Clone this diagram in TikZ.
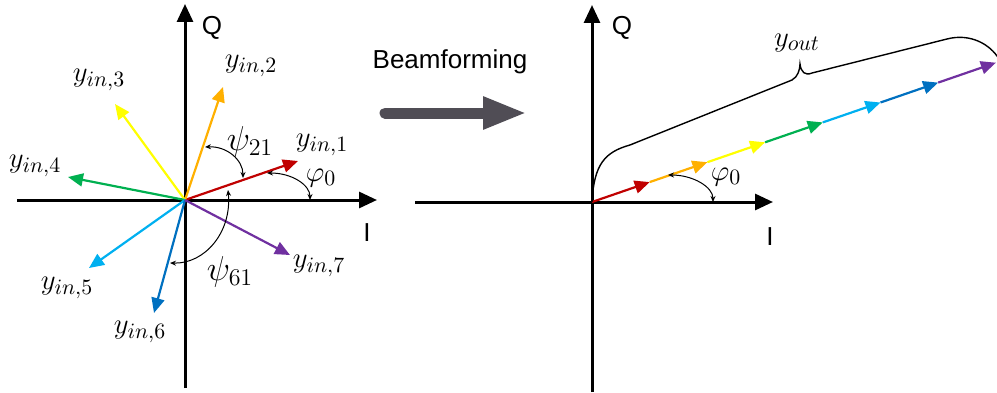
\documentclass[tikz,border=0pt]{standalone}
\usepackage{amsmath,amssymb}
\usepackage{fontspec}
\newfontfamily\arialfont{Liberation Sans}
\usepackage{xcolor}
\usetikzlibrary{arrows.meta, calc}

\definecolor{vred}{HTML}{C00000}
\definecolor{vorange}{HTML}{FFB000}
\definecolor{vyellow}{HTML}{FFFF00}
\definecolor{vgreen}{HTML}{00B050}
\definecolor{vcyan}{HTML}{00B0F0}
\definecolor{vblue}{HTML}{0070C0}
\definecolor{vpurple}{HTML}{7030A0}
\definecolor{bfgray}{HTML}{504D55}

\begin{document}
\begin{tikzpicture}[x=0.5pt, y=0.5pt,
    axis/.style={line width=1.5pt, -{Triangle[length=9pt, width=8pt]}},
    vec/.style={line width=1.1pt, -{Triangle[length=7.5pt, width=6.5pt]}},
    angmark/.style={line width=0.5pt, {Stealth[length=3pt, width=2.5pt]}-{Stealth[length=3pt, width=2.5pt]}},
    lbl/.style={font=\fontsize{15}{18}\selectfont},
    anglbl/.style={font=\fontsize{17.5}{20}\selectfont},
    axlbl/.style={font=\arialfont\fontsize{13}{15}\selectfont}]
    \useasboundingbox (0,0) rectangle (997,392);

    % input constellation
    \coordinate (O1) at (185,192);
    \coordinate (xl) at (17,192);
    \coordinate (xr) at (377,192);
    \coordinate (yb) at (185,4);
    \coordinate (yt) at (185,388);
    \draw[axis] (xl) -- (xr);
    \draw[axis] (yb) -- (yt);
    \node[axlbl] (Q1) at (212,364) {Q};
    \node[axlbl] (I1) at (367,159) {I};

    \foreach \n/\col/\tx/\ty/\lx/\ly in {1/vred/298/231/322/247, 2/vorange/223/305/251/326,
        3/vyellow/115/288/99/312, 4/vgreen/68/215/35/226, 5/vcyan/89/124/67/104,
        6/vblue/154/79/140/60, 7/vpurple/290/137/319/126} {
        \coordinate (in\n) at (\tx,\ty);
        \draw[vec, \col] (O1) -- (in\n);
        \node[lbl] (lin\n) at (\lx,\ly) {$y_{in,\n}$};
    }

    % angles
    \coordinate (p0a) at (267,219);
    \coordinate (p0b) at (310,192);
    \draw[angmark] (p0a) .. controls (292,219) and (310,207) .. (p0b);
    \node[lbl] (phi1) at (321,214) {$\varphi_0$};
    \coordinate (p21a) at (205,245);
    \coordinate (p21b) at (243,214);
    \draw[angmark] (p21a) .. controls (227,246) and (243,232) .. (p21b);
    \node[anglbl] (psi21) at (250,250) {$\psi_{21}$};
    \coordinate (p61a) at (228,202);
    \coordinate (p61b) at (170,129);
    \draw[angmark] (p61a) .. controls (232,160) and (205,128) .. (p61b);
    \node[anglbl] (psi61) at (230,120) {$\psi_{61}$};

    % beamforming arrow
    \node[axlbl] (bf) at (450,330) {Beamforming};
    \coordinate (bfa) at (385,279);
    \coordinate (bfb) at (527,279);
    \draw[line width=5.5pt, bfgray, line cap=round, -{Triangle[length=22pt, width=15pt]}] (bfa) -- (bfb);

    % output: coherent sum
    \coordinate (O2) at (592,190);
    \coordinate (xl2) at (415,190);
    \coordinate (xr2) at (773,190);
    \coordinate (yb2) at (592,0);
    \coordinate (yt2) at (592,387);
    \draw[axis] (xl2) -- (xr2);
    \draw[axis] (yb2) -- (yt2);
    \node[axlbl] (Q2) at (622,364) {Q};
    \node[axlbl] (I2) at (770,155) {I};

    \coordinate (c0) at (O2);
    \foreach \col [count=\k] in {vred, vorange, vyellow, vgreen, vcyan, vblue, vpurple} {
        \pgfmathtruncatemacro{\j}{\k-1}
        \coordinate (c\k) at ($(O2)+\k*(57.7,19.9)$);
        \draw[vec, \col] (c\j) -- (c\k);
    }

    \coordinate (p0c) at (668,217);
    \coordinate (p0d) at (713,190);
    \draw[angmark] (p0c) .. controls (693,217) and (713,205) .. (p0d);
    \node[lbl] (phi2) at (726,215) {$\varphi_0$};

    % brace
    \draw[line width=0.7pt] (O2) .. controls (594,228) and (605,240) .. (630,247) -- (792,312)
        .. controls (798,315) and (800,323) .. (800,328)
        .. controls (801,320) and (805,316) .. (812,319) -- (947,353)
        .. controls (970,359) and (990,348) .. (999,333);
    \node[lbl] (yout) at (797,349) {$y_{out}$};
\end{tikzpicture}
\end{document}
